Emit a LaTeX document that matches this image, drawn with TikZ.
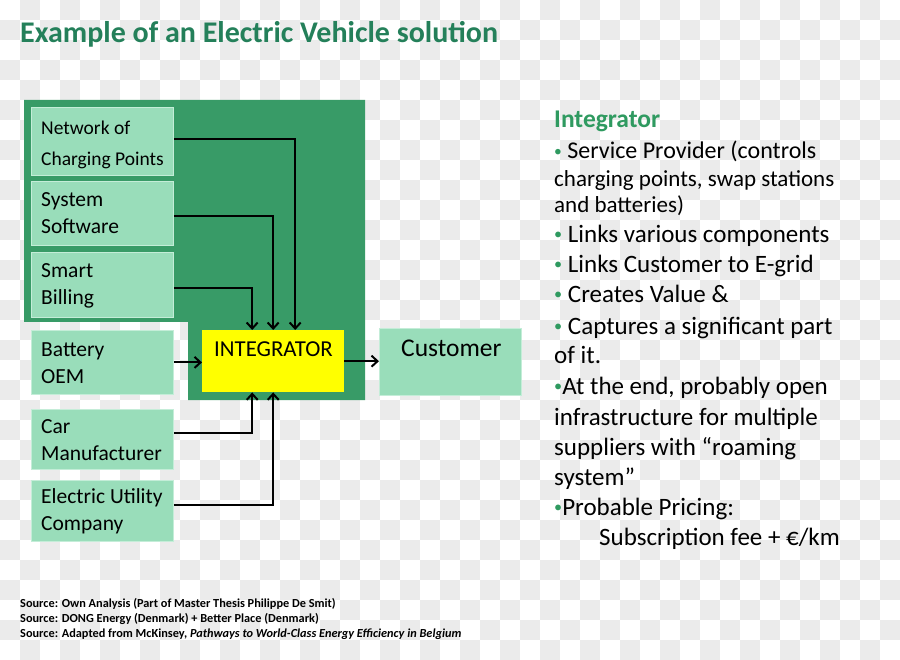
\documentclass[tikz,border=0pt]{standalone}
\usepackage{fontspec}
\setmainfont{Carlito}
\usetikzlibrary{arrows.meta,calc}
\definecolor{checkgray}{HTML}{EBEBEB}
\definecolor{titlegreen}{HTML}{24805A}
\definecolor{darkbox}{HTML}{389B67}
\definecolor{lightbox}{HTML}{99DDBA}
\definecolor{lightedge}{HTML}{C4EDD8}
\definecolor{headgreen}{HTML}{2F9A60}
\definecolor{intyellow}{HTML}{FFFF00}
\tikzset{
  lbox/.style={rectangle, fill=lightbox, draw=lightedge, line width=0.8pt, inner sep=0pt, anchor=north west},
  ybox/.style={rectangle, fill=intyellow, inner sep=0pt, anchor=north west},
  btxt/.style={anchor=base west, inner sep=0pt, font=\fontsize{21.5}{21.5}\selectfont},
  rtxt/.style={anchor=base west, inner sep=0pt, font=\fontsize{25}{25}\selectfont},
  src/.style={anchor=base west, inner sep=0pt, font=\fontsize{12.3}{12.3}\selectfont\bfseries},
  arr/.style={draw=black, line width=2pt, -{Straight Barb[length=6pt,width=11pt,line width=2pt]}},
}
\newcommand{\bul}{{\color{headgreen}\raisebox{0.12em}{\scalebox{0.65}{•}}}}
\begin{document}
\begin{tikzpicture}[x=1pt,y=-1pt]
\useasboundingbox (0,0) rectangle (900,660);
% checkerboard background
\fill[white] (0,0) rectangle (900,660);
\foreach \j in {0,2,...,32}{
  \foreach \i in {1,3,...,43}{
    \fill[checkgray] (\i*20,\j*20) rectangle ++(20,20);
  }
}
\foreach \j in {1,3,...,31}{
  \foreach \i in {0,2,...,44}{
    \fill[checkgray] (\i*20,\j*20) rectangle ++(20,20);
  }
}
% title
\node[anchor=base west, inner sep=0pt, text=titlegreen, font=\fontsize{30}{30}\selectfont\bfseries] (title) at (20,43) {Example of an Electric Vehicle solution};
% dark green L-shaped area
\fill[darkbox] (24,100) -- (365,100) -- (365,400) -- (188,400) -- (188,322) -- (24,322) -- cycle;
% boxes
\node[lbox, minimum width=142pt, minimum height=68pt] (net) at (31,107) {};
\node[lbox, minimum width=142pt, minimum height=64pt] (sys) at (31,181) {};
\node[lbox, minimum width=142pt, minimum height=65pt] (bil) at (31,252) {};
\node[lbox, minimum width=142pt, minimum height=64pt] (bat) at (31,330) {};
\node[lbox, minimum width=142pt, minimum height=60pt] (car) at (31,409) {};
\node[lbox, minimum width=142pt, minimum height=61pt] (ele) at (31,480) {};
\node[ybox, minimum width=142pt, minimum height=62pt] (int) at (202,330) {};
\node[lbox, minimum width=142pt, minimum height=67pt] (cus) at (379,328) {};
% box texts
\node[btxt, font=\fontsize{19.5}{19.5}\selectfont] (t1a) at (41,135) {Network of};
\node[btxt, font=\fontsize{19.5}{19.5}\selectfont] (t1b) at (41,166) {Charging Points};
\node[btxt] (t2a) at (41,207) {System};
\node[btxt] (t2b) at (41,234) {Software};
\node[btxt] (t3a) at (41,278) {Smart};
\node[btxt] (t3b) at (41,305) {Billing};
\node[btxt] (t4a) at (41,357) {Battery};
\node[btxt] (t4b) at (41,384) {OEM};
\node[btxt] (t5a) at (41,433) {Car};
\node[btxt] (t5b) at (41,460) {Manufacturer};
\node[btxt] (t6a) at (41,503) {Electric Utility};
\node[btxt] (t6b) at (41,530) {Company};
\node[btxt, font=\fontsize{22.8}{22.8}\selectfont] (t7) at (214,357) {INTEGRATOR};
\node[btxt, font=\fontsize{25.5}{25.5}\selectfont] (t8) at (401,356) {Customer};
% connectors
\draw[arr] ([yshift=2]net.east) -| ([xshift=22]int.north);
\draw[arr] ([yshift=-3]sys.east) -| (int.north);
\draw[arr] ([yshift=-3]bil.east) -| ([xshift=-21]int.north);
\draw[arr] (bat.east) -- (bat.east -| int.west);
\draw[arr] (int.east) -- (int.east -| cus.west);
\draw[arr] ([yshift=6]car.east) -| ([xshift=-21]int.south);
\draw[arr] ([yshift=6]ele.east) -| (int.south);
% right text
\node[rtxt, text=headgreen, font=\fontsize{25.5}{25.5}\selectfont\bfseries] (r1) at (554,128) {Integrator};
\node[rtxt, font=\fontsize{24}{24}\selectfont] (r2) at (554,159) {\bul{} Service Provider (controls};
\node[rtxt, font=\fontsize{23}{23}\selectfont] (r3) at (554,187) {charging points, swap stations};
\node[rtxt, font=\fontsize{23}{23}\selectfont] (r4) at (554,213) {and batteries)};
\node[rtxt] (r5) at (554,243) {\bul{} Links various components};
\node[rtxt] (r6) at (554,273) {\bul{} Links Customer to E-grid};
\node[rtxt] (r7) at (554,303) {\bul{} Creates Value \&};
\node[rtxt] (r8) at (554,335) {\bul{} Captures a significant part};
\node[rtxt] (r9) at (554,363) {of it.};
\node[rtxt] (r10) at (554,395) {\bul{}At the end, probably open};
\node[rtxt] (r11) at (554,425) {infrastructure for multiple};
\node[rtxt] (r12) at (554,455) {suppliers with “roaming};
\node[rtxt] (r13) at (554,485) {system”};
\node[rtxt] (r14) at (554,515) {\bul{}Probable Pricing:};
\node[rtxt] (r15) at (599,545) {Subscription fee + €/km};
% sources
\node[src] (s1) at (20,607) {Source: Own Analysis (Part of Master Thesis Philippe De Smit)};
\node[src] (s2) at (20,622) {Source: DONG Energy (Denmark) + Better Place (Denmark)};
\node[src] (s3) at (20,637) {Source: Adapted from McKinsey, \textit{Pathways to World-Class Energy Efficiency in Belgium}};
\end{tikzpicture}
\end{document}
